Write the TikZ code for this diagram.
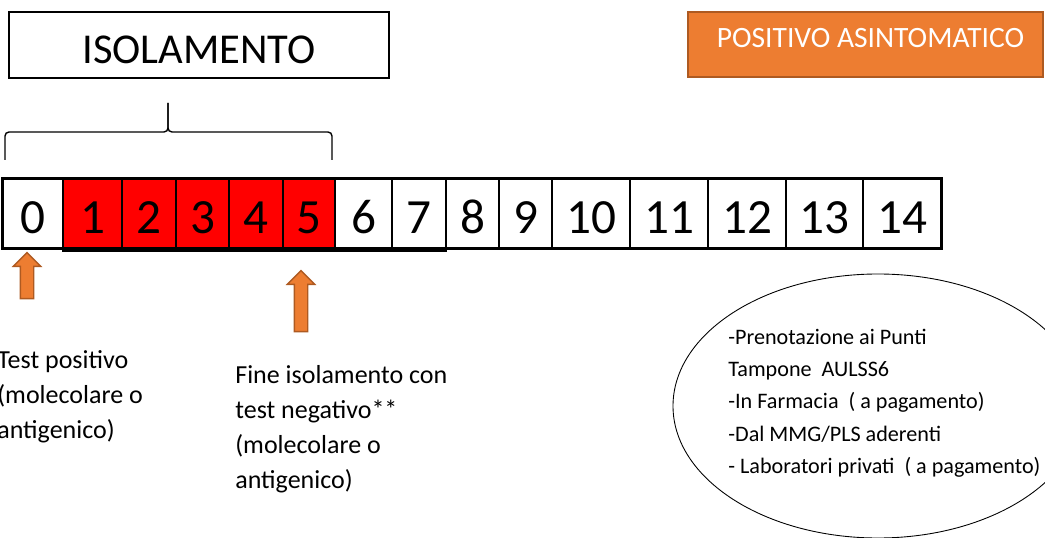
\documentclass[tikz,border=0pt]{standalone}
\usepackage{fontspec}
\setmainfont{Carlito}
\usetikzlibrary{shapes.geometric,shapes.arrows}

\definecolor{boxorange}{HTML}{ED7D31}
\definecolor{edgeorange}{HTML}{AE5A21}
\definecolor{dayred}{HTML}{FF0000}

\tikzset{
    cell/.style={draw, line width=1.1pt, inner sep=0pt, minimum height=13.8mm,
        text height=8.2mm, text depth=0pt, font=\fontsize{28}{30}\selectfont},
    uparrow/.style={single arrow, shape border rotate=90, fill=boxorange,
        draw=edgeorange, line width=0.8pt, inner sep=1.2mm,
        single arrow head extend=1.4mm, minimum width=5.2mm},
    note/.style={align=left, inner sep=0pt, anchor=north west,
        font=\fontsize{14.8}{19.9}\selectfont}
}

\begin{document}
\begin{tikzpicture}[x=0.2mm,y=-0.2mm]
        \useasboundingbox (0,0) rectangle (1045,538);

        % Title boxes
        \node[draw, line width=0.8pt, minimum width=76mm, minimum height=13.2mm,
            text height=7.6mm, text depth=0pt, font=\fontsize{24.2}{26}\selectfont]
            (iso) at (199,45) {ISOLAMENTO};
        \node[fill=boxorange, draw=edgeorange, line width=1pt, text=white,
            minimum width=71mm, minimum height=13mm, text height=1.3mm, text depth=0pt,
            font=\fontsize{16.8}{18}\selectfont]
            (status) at (865.5,44.5) {\hspace*{2mm}POSITIVO ASINTOMATICO};

        % Brace
        \coordinate (tip) at (168,103);
        \draw[line width=0.8pt, rounded corners=0.8mm] (5,160) |- (168,132) -- (tip);
        \draw[line width=0.8pt, rounded corners=0.8mm] (332,160) |- (168,132) -- (tip);

        % Days
        \foreach \n/\a/\b/\c in {0/3/63/white, 1/63/122/dayred, 2/122/176/dayred,
                3/176/229/dayred, 4/229/283/dayred, 5/283/335/dayred, 6/335/392/white,
                7/392/446/white, 8/446/499/white, 9/499/552/white, 10/552/630/white,
                11/630/708/white, 12/708/786/white, 13/786/863/white, 14/863/941/white}
            \node[cell, fill=\c, minimum width={(\b-\a)*0.2mm}] (c\n) at ({(\a+\b)/2},213.5) {\n};
        \draw[line width=1.7pt] (c0.north west) rectangle (c14.south east);
        \draw[line width=1.7pt] ([yshift=-0.4mm]c1.south west) -- ([yshift=-0.4mm]c7.south east);

        % Arrows
        \node[uparrow, minimum height=9.2mm] (up0) at (27,279) {};
        \node[uparrow, minimum height=12.2mm] (up5) at (301,304.5) {};

        % Notes
        \node[note] (start) at (-3,350) {Test positivo\\(molecolare o\\antigenico)};
        \node[note] (end) at (235,365) {Fine isolamento con\\test negativo**\\(molecolare o\\antigenico)};

        % Where to test
        \node[draw, ellipse, line width=0.5pt, minimum width=82mm, minimum height=52.8mm]
            (where) at (878,406) {};
        \node[note, font=\fontsize{12.6}{18.3}\selectfont] (wheretext) at (728,329)
            {-Prenotazione ai Punti\\Tampone\ \ AULSS6\\-In Farmacia\ \ ( a pagamento)\\-Dal MMG/PLS aderenti\\- Laboratori privati\ \ ( a pagamento)};
    \end{tikzpicture}
\end{document}
